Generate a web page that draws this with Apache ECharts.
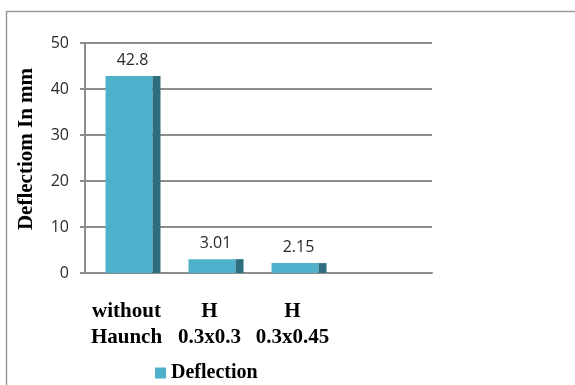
<!DOCTYPE html>
<html>
<head>
<meta charset="utf-8">
<script src="https://cdn.jsdelivr.net/npm/echarts@6/dist/echarts.min.js"></script>
<style>
  html, body { margin: 0; padding: 0; background: #ffffff; }
  #chart { width: 575px; height: 385px; }
</style>
</head>
<body>
<div id="chart"></div>
<script>
// Deflection of the frame for each haunch configuration
const categories = ['without\nHaunch', 'H\n0.3x0.3', 'H\n0.3x0.45'];
const deflection = [42.8, 3.01, 2.15];
const yTicks = [0, 10, 20, 30, 40, 50];
const seriesName = 'Deflection';
const axisTitle = 'Deflectiom In mm';

const FRONT = '#4eb0ca';
const SIDE = '#2e6e7f';
const GRID = '#8c8c8c';

const chart = echarts.init(document.getElementById('chart'), null, { renderer: 'canvas' });

// Each column is a front face plus a darker side face, with its value above it
function renderColumn(params, api) {
  const i = api.value(0);
  const v = api.value(1);
  const base = api.coord([i, 0]);
  const top = api.coord([i, v]);
  const cx = base[0];
  const h = base[1] - top[1];
  return {
    type: 'group',
    children: [
      { type: 'rect', shape: { x: cx - 21, y: top[1], width: 47, height: h }, style: { fill: FRONT } },
      { type: 'rect', shape: { x: cx + 26, y: top[1], width: 8, height: h }, style: { fill: SIDE } },
      {
        type: 'text',
        x: cx + 6, y: top[1] - 16,
        style: {
          text: String(v), fill: '#2a2a2a',
          font: '16px "Open Sans", sans-serif',
          align: 'center', verticalAlign: 'middle'
        }
      }
    ]
  };
}

chart.setOption({
  animation: false,
  backgroundColor: '#ffffff',
  grid: { left: 85, right: 143, top: 43, bottom: 112 },
  graphic: [
    {
      type: 'polyline',
      shape: { points: [[6.5, 385], [6.5, 11.5], [575, 11.5]] },
      style: { stroke: '#9a9a9a', lineWidth: 1.5, fill: null }
    },
    {
      type: 'text',
      x: 27, y: 149, rotation: Math.PI / 2,
      style: {
        text: axisTitle, fill: '#000000',
        font: 'bold 21px "Liberation Serif", serif',
        align: 'center', verticalAlign: 'middle'
      }
    }
  ],
  legend: {
    left: 155, top: 363, padding: 0,
    icon: 'rect', itemWidth: 11, itemHeight: 11, itemGap: 5,
    textStyle: { fontFamily: 'Liberation Serif', fontWeight: 'bold', fontSize: 20, color: '#000000' },
    data: [seriesName]
  },
  xAxis: {
    type: 'value',
    min: -0.5, max: 3.68,
    axisLine: { show: true, lineStyle: { color: GRID, width: 2 } },
    axisTick: { show: false },
    splitLine: { show: false },
    axisLabel: {
      customValues: [0, 1, 2],
      formatter: v => categories[Math.round(v)] || '',
      margin: 26,
      lineHeight: 26,
      fontFamily: 'Liberation Serif', fontWeight: 'bold', fontSize: 21, color: '#000000'
    }
  },
  yAxis: {
    type: 'value',
    min: yTicks[0], max: yTicks[yTicks.length - 1], interval: 10,
    axisLine: { show: true, onZero: false, lineStyle: { color: GRID, width: 2 } },
    axisTick: { show: true, length: 5, lineStyle: { color: GRID, width: 2 } },
    splitLine: { show: true, lineStyle: { color: GRID, width: 2 } },
    axisLabel: { margin: 16, fontFamily: 'Open Sans', fontSize: 16, color: '#2a2a2a' }
  },
  series: [{
    name: seriesName,
    type: 'custom',
    itemStyle: { color: FRONT },
    renderItem: renderColumn,
    encode: { x: 0, y: 1 },
    data: deflection.map((v, i) => [i, v])
  }]
});
</script>
</body>
</html>
